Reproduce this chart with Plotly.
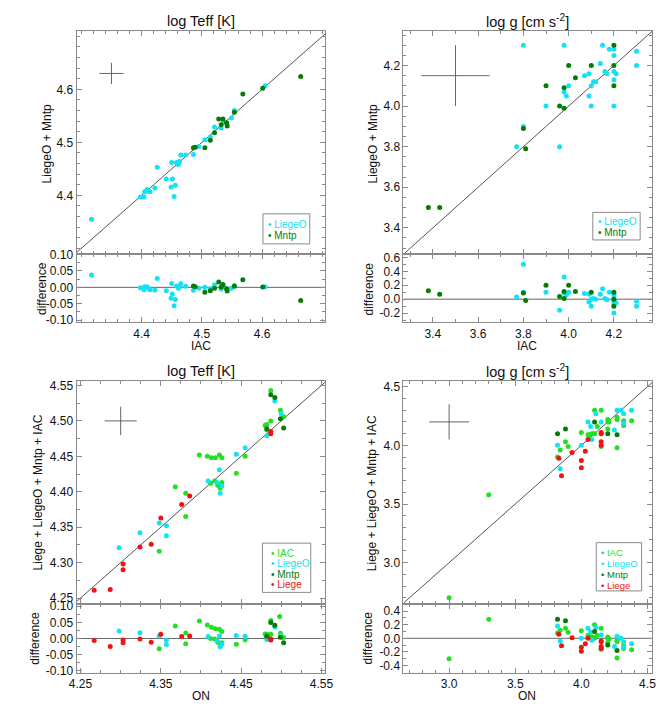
import plotly.graph_objects as go

# ---- top left: log Teff, IAC (x) vs LiegeO + Mntp (y)
t1_liegeo_x = [4.317, 4.398, 4.404, 4.405, 4.409, 4.411, 4.414, 4.422, 4.426, 4.441,
               4.450, 4.449, 4.451, 4.456, 4.454, 4.458, 4.461, 4.463, 4.465, 4.473,
               4.486, 4.495, 4.505, 4.514, 4.521, 4.532, 4.536, 4.549, 4.554, 4.605]
t1_liegeo_y = [4.355, 4.397, 4.397, 4.407, 4.411, 4.408, 4.407, 4.414, 4.453, 4.431,
               4.462, 4.416, 4.431, 4.419, 4.398, 4.462, 4.458, 4.464, 4.476, 4.476,
               4.477, 4.492, 4.505, 4.510, 4.529, 4.527, 4.538, 4.546, 4.560, 4.607]
t1_mntp_x = [4.486, 4.489, 4.505, 4.514, 4.521, 4.528, 4.532, 4.535, 4.541, 4.542,
             4.554, 4.568, 4.601, 4.664]
t1_mntp_y = [4.490, 4.491, 4.490, 4.504, 4.518, 4.544, 4.533, 4.544, 4.537, 4.531,
             4.557, 4.591, 4.602, 4.624]

# ---- top right: log g, IAC (x) vs LiegeO + Mntp (y)
g1_liegeo_x = [3.80, 3.80, 3.77, 3.90, 3.96, 3.98, 3.98, 3.99, 4.00, 4.07,
               4.09, 4.09, 4.10, 4.10, 4.11, 4.12, 4.14, 4.15, 4.16, 4.17,
               4.18, 4.20, 4.20, 4.20, 4.20, 4.20, 4.21, 4.30, 4.30]
g1_liegeo_y = [4.30, 3.90, 3.80, 4.00, 3.80, 4.30, 4.07, 4.05, 4.10, 4.15,
               4.16, 4.05, 4.10, 4.00, 4.12, 4.12, 4.21, 4.30, 4.17, 4.16,
               4.28, 4.28, 4.25, 4.17, 4.13, 4.00, 4.16, 4.27, 4.20]
g1_mntp_x = [3.38, 3.43, 3.80, 3.81, 3.90, 3.96, 3.98, 3.98, 4.00, 4.03,
             4.10, 4.20, 4.20, 4.20]
g1_mntp_y = [3.50, 3.50, 3.89, 3.79, 4.10, 4.00, 4.09, 3.99, 4.20, 4.14,
             4.20, 4.30, 4.20, 4.10]

# ---- bottom left: log Teff, ON (x) vs Liege + LiegeO + Mntp + IAC (y)
t2_iac_x = [4.348, 4.368, 4.381, 4.381, 4.398, 4.408, 4.413, 4.418, 4.423, 4.426,
            4.412, 4.417, 4.421, 4.426, 4.424, 4.444, 4.455, 4.480, 4.482, 4.482,
            4.487, 4.487, 4.499, 4.503, 4.498]
t2_iac_y = [4.316, 4.407, 4.398, 4.365, 4.452, 4.450, 4.448, 4.448, 4.452, 4.448,
            4.412, 4.415, 4.409, 4.413, 4.405, 4.426, 4.450, 4.494, 4.495, 4.487,
            4.500, 4.543, 4.515, 4.506, 4.566]
t2_liegeo_x = [4.298, 4.324, 4.348, 4.357, 4.357, 4.409, 4.420, 4.423, 4.424, 4.426,
               4.444, 4.455, 4.482, 4.492, 4.500]
t2_liegeo_y = [4.321, 4.342, 4.356, 4.352, 4.338, 4.415, 4.413, 4.431, 4.398, 4.408,
               4.453, 4.462, 4.479, 4.528, 4.510]
t2_mntp_x = [4.487, 4.492, 4.482, 4.499, 4.503]
t2_mntp_y = [4.537, 4.533, 4.489, 4.503, 4.490]
t2_liege_x = [4.267, 4.287, 4.303, 4.303, 4.324, 4.338, 4.350, 4.376, 4.386, 4.487, 4.487]
t2_liege_y = [4.261, 4.262, 4.298, 4.290, 4.322, 4.326, 4.363, 4.382, 4.394, 4.485, 4.482]

# ---- bottom right: log g, ON (x) vs Liege + LiegeO + Mntp + IAC (y)
g2_iac_x = [3.00, 3.30, 3.82, 3.84, 3.88, 3.90, 4.00, 4.05, 4.06, 4.08,
            4.09, 4.10, 4.10, 4.12, 4.15, 4.15, 4.20, 4.20, 4.21, 4.20,
            4.27, 4.27, 4.27, 4.32, 4.32, 4.38]
g2_iac_y = [2.70, 3.58, 3.90, 3.96, 4.03, 3.99, 4.11, 4.09, 4.09, 4.10,
            4.10, 4.10, 4.30, 4.16, 4.30, 3.99, 4.22, 4.20, 4.20, 4.14,
            4.24, 4.22, 3.98, 4.21, 4.17, 4.21]
g2_liegeo_x = [3.82, 3.84, 4.00, 4.05, 4.07, 4.08, 4.11, 4.15, 4.25, 4.27,
               4.30, 4.32, 4.32, 4.38]
g2_liegeo_y = [4.00, 3.80, 4.00, 4.20, 4.16, 4.05, 4.27, 4.20, 4.13, 4.30,
               4.30, 4.27, 4.19, 4.30]
g2_mntp_x = [3.82, 3.88, 4.10, 4.20, 4.27]
g2_mntp_y = [4.10, 4.14, 4.20, 4.10, 4.09]
g2_liege_x = [3.83, 3.85, 3.93, 4.00, 4.00, 4.03, 4.05, 4.15, 4.15, 4.15, 4.15]
g2_liege_y = [3.89, 3.74, 3.94, 3.87, 3.81, 3.95, 4.05, 4.11, 4.10, 4.03, 4.00]

# typical error bars (centre x, centre y, half width x, half width y)
t1_err = [4.35, 4.63, 0.02, 0.02]
g1_err = [3.50, 4.15, 0.15, 0.15]
t2_err = [4.30, 4.50, 0.02, 0.02]
g2_err = [3.00, 4.20, 0.15, 0.15]

# tick labels
t1_ticks = [4.4, 4.5, 4.6]
t1_ticktext = ['4.4', '4.5', '4.6']
t1_diff_ticks = [0.10, 0.05, 0.0, -0.05, -0.10]
t1_diff_ticktext = ['0.10', '0.05', '0.00', '-0.05', '-0.10']
g1_ticks = [3.4, 3.6, 3.8, 4.0, 4.2]
g1_ticktext = ['3.4', '3.6', '3.8', '4.0', '4.2']
g1_diff_ticks = [0.6, 0.4, 0.2, 0.0, -0.2]
g1_diff_ticktext = ['0.6', '0.4', '0.2', '0.0', '-0.2']
t2_xticks = [4.25, 4.35, 4.45, 4.55]
t2_xticktext = ['4.25', '4.35', '4.45', '4.55']
t2_yticks = [4.25, 4.30, 4.35, 4.40, 4.45, 4.50, 4.55]
t2_yticktext = ['4.25', '4.30', '4.35', '4.40', '4.45', '4.50', '4.55']
t2_diff_ticks = [0.10, 0.05, 0.0, -0.05, -0.10]
t2_diff_ticktext = ['0.10', '0.05', '0.00', '-0.05', '-0.10']
g2_ticks = [3.0, 3.5, 4.0, 4.5]
g2_ticktext = ['3.0', '3.5', '4.0', '4.5']
g2_diff_ticks = [0.4, 0.2, 0.0, -0.2, -0.4]
g2_diff_ticktext = ['0.4', '0.2', '0.0', '-0.2', '-0.4']

CYAN = '#12E2F4'
LGREEN = '#22E022'
DGREEN = '#087A08'
RED = '#EE1414'
AXC = '#8A8A8A'
FONT = 'Liberation Sans'
W, H = 667, 709


def px(x):
    return x / W


def py(y):
    return 1 - y / H


def diff(xs, ys):
    return [b - a for a, b in zip(xs, ys)]


fig = go.Figure()


def points(x, y, color, n):
    xa = 'x' if n == 1 else 'x%d' % n
    ya = 'y' if n == 1 else 'y%d' % n
    fig.add_trace(go.Scatter(x=x, y=y, mode='markers', xaxis=xa, yaxis=ya,
                             marker=dict(color=color, size=5), showlegend=False))


def line(x, y, n, color='#555555'):
    xa = 'x' if n == 1 else 'x%d' % n
    ya = 'y' if n == 1 else 'y%d' % n
    fig.add_trace(go.Scatter(x=x, y=y, mode='lines', xaxis=xa, yaxis=ya,
                             line=dict(color=color, width=1), showlegend=False,
                             hoverinfo='skip'))


def cross(err, n):
    xa = 'x' if n == 1 else 'x%d' % n
    ya = 'y' if n == 1 else 'y%d' % n
    fig.add_trace(go.Scatter(x=[err[0]], y=[err[1]], mode='markers', xaxis=xa, yaxis=ya,
                             marker=dict(size=1, color='#666666'), showlegend=False,
                             error_x=dict(type='constant', value=err[2], width=0,
                                          thickness=1, color='#666666'),
                             error_y=dict(type='constant', value=err[3], width=0,
                                          thickness=1, color='#666666')))


# axis ranges
t1_rx, t1_ry, t1_rd = [4.292, 4.705], [4.289, 4.71], [-0.106, 0.101]
g1_rx, g1_ry, g1_rd = [3.27, 4.37], [3.27, 4.37], [-0.33, 0.646]
t2_rx, t2_ry, t2_rd = [4.245, 4.555], [4.242, 4.556], [-0.107, 0.108]
g2_rx, g2_ry, g2_rd = [2.655, 4.537], [2.65, 4.547], [-0.51, 0.51]

# panel 1 / 2 : top left
line([4.2, 4.8], [4.2, 4.8], 1)
cross(t1_err, 1)
points(t1_liegeo_x, t1_liegeo_y, CYAN, 1)
points(t1_mntp_x, t1_mntp_y, DGREEN, 1)
line(t1_rx, [0, 0], 2, '#666666')
points(t1_liegeo_x, diff(t1_liegeo_x, t1_liegeo_y), CYAN, 2)
points(t1_mntp_x, diff(t1_mntp_x, t1_mntp_y), DGREEN, 2)

# panel 3 / 4 : top right
line([3.0, 4.6], [3.0, 4.6], 3)
cross(g1_err, 3)
points(g1_liegeo_x, g1_liegeo_y, CYAN, 3)
points(g1_mntp_x, g1_mntp_y, DGREEN, 3)
line(g1_rx, [0, 0], 4, '#666666')
points(g1_liegeo_x, diff(g1_liegeo_x, g1_liegeo_y), CYAN, 4)
points(g1_mntp_x, diff(g1_mntp_x, g1_mntp_y), DGREEN, 4)

# panel 5 / 6 : bottom left
line([4.2, 4.6], [4.2, 4.6], 5)
cross(t2_err, 5)
points(t2_iac_x, t2_iac_y, LGREEN, 5)
points(t2_liegeo_x, t2_liegeo_y, CYAN, 5)
points(t2_mntp_x, t2_mntp_y, DGREEN, 5)
points(t2_liege_x, t2_liege_y, RED, 5)
line(t2_rx, [0, 0], 6, '#666666')
points(t2_iac_x, diff(t2_iac_x, t2_iac_y), LGREEN, 6)
points(t2_liegeo_x, diff(t2_liegeo_x, t2_liegeo_y), CYAN, 6)
points(t2_mntp_x, diff(t2_mntp_x, t2_mntp_y), DGREEN, 6)
points(t2_liege_x, diff(t2_liege_x, t2_liege_y), RED, 6)

# panel 7 / 8 : bottom right
line([2.5, 4.7], [2.5, 4.7], 7)
cross(g2_err, 7)
points(g2_iac_x, g2_iac_y, LGREEN, 7)
points(g2_liegeo_x, g2_liegeo_y, CYAN, 7)
points(g2_mntp_x, g2_mntp_y, DGREEN, 7)
points(g2_liege_x, g2_liege_y, RED, 7)
line(g2_rx, [0, 0], 8, '#666666')
points(g2_iac_x, diff(g2_iac_x, g2_iac_y), LGREEN, 8)
points(g2_liegeo_x, diff(g2_liegeo_x, g2_liegeo_y), CYAN, 8)
points(g2_mntp_x, diff(g2_mntp_x, g2_mntp_y), DGREEN, 8)
points(g2_liege_x, diff(g2_liege_x, g2_liege_y), RED, 8)


def axis(rng, domain, anchor, tickvals, ticktext, minor, labels=True):
    return dict(range=rng, domain=domain, anchor=anchor,
                tickmode='array', tickvals=tickvals, ticktext=ticktext,
                showticklabels=labels, ticks='inside', ticklen=5, tickwidth=1,
                tickcolor=AXC, showline=True, linecolor=AXC, linewidth=1,
                mirror='allticks', showgrid=False, zeroline=False,
                minor=dict(ticks='inside', ticklen=3, tickcolor=AXC, tick0=0,
                           dtick=minor, showgrid=False),
                tickfont=dict(family=FONT, size=12, color='#111111'))


xl = [px(62), px(317)]
xr = [px(397), px(652)]
y_top = [py(244), py(17.3)]
y_topd = [py(313), py(244)]
y_bot = [py(599), py(373)]
y_botd = [py(669.3), py(599)]

layout = dict(
    width=W, height=H, margin=dict(l=0, r=0, t=0, b=0),
    plot_bgcolor='white', paper_bgcolor='white', showlegend=False,
    font=dict(family=FONT, size=12, color='#111111'),
    xaxis=axis(t1_rx, xl, 'y', t1_ticks, t1_ticktext, 0.02, False),
    yaxis=axis(t1_ry, y_top, 'x', t1_ticks, t1_ticktext, 0.02),
    xaxis2=axis(t1_rx, xl, 'y2', t1_ticks, t1_ticktext, 0.02),
    yaxis2=axis(t1_rd, y_topd, 'x2', t1_diff_ticks, t1_diff_ticktext, 0.025),
    xaxis3=axis(g1_rx, xr, 'y3', g1_ticks, g1_ticktext, 0.1, False),
    yaxis3=axis(g1_ry, y_top, 'x3', g1_ticks, g1_ticktext, 0.05),
    xaxis4=axis(g1_rx, xr, 'y4', g1_ticks, g1_ticktext, 0.1),
    yaxis4=axis(g1_rd, y_topd, 'x4', g1_diff_ticks, g1_diff_ticktext, 0.1),
    xaxis5=axis(t2_rx, xl, 'y5', t2_xticks, t2_xticktext, 0.025, False),
    yaxis5=axis(t2_ry, y_bot, 'x5', t2_yticks, t2_yticktext, 0.025),
    xaxis6=axis(t2_rx, xl, 'y6', t2_xticks, t2_xticktext, 0.025),
    yaxis6=axis(t2_rd, y_botd, 'x6', t2_diff_ticks, t2_diff_ticktext, 0.025),
    xaxis7=axis(g2_rx, xr, 'y7', g2_ticks, g2_ticktext, 0.1, False),
    yaxis7=axis(g2_ry, y_bot, 'x7', g2_ticks, g2_ticktext, 0.1),
    xaxis8=axis(g2_rx, xr, 'y8', g2_ticks, g2_ticktext, 0.1),
    yaxis8=axis(g2_rd, y_botd, 'x8', g2_diff_ticks, g2_diff_ticktext, 0.1),
)
fig.update_layout(**layout)


def text(s, x, y, size=12, angle=0, color='#111111', xanchor='center'):
    fig.add_annotation(text=s, x=px(x), y=py(y), xref='paper', yref='paper',
                       showarrow=False, textangle=angle, xanchor=xanchor,
                       yanchor='middle', font=dict(family=FONT, size=size, color=color))


# titles
text('log Teff [K]', 190, 7.5, 14.5)
text('log g [cm s<sup>-2</sup>]', 524, 7.5, 14.5)
text('log Teff [K]', 190, 363, 14.5)
text('log g [cm s<sup>-2</sup>]', 524, 363, 14.5)

# axis titles
text('LiegeO + Mntp', 31.5, 131.7, 12, -90)
text('difference', 26, 279, 12, -90)
text('IAC', 190, 337.5, 12)
text('LiegeO + Mntp', 365.5, 131.7, 12, -90)
text('difference', 361.5, 279, 12, -90)
text('IAC', 524, 337.5, 12)
text('Liege + LiegeO + Mntp + IAC', 22.5, 486, 12, -90)
text('difference', 20, 634, 12, -90)
text('ON', 190, 693, 12)
text('Liege + LiegeO + Mntp + IAC', 365, 486.5, 12, -90)
text('difference', 361, 634, 12, -90)
text('ON', 524, 693, 12)


# legend boxes
def legend(box, rows, x0, y0, step, size=10):
    fig.add_shape(type='rect', xref='paper', yref='paper',
                  x0=px(box[0]), x1=px(box[2]), y0=py(box[3]), y1=py(box[1]),
                  line=dict(color=AXC, width=1))
    for i, (name, color) in enumerate(rows):
        text('\u2022 ' + name, x0, y0 + i * step, size, 0, color, 'left')


legend([253, 203, 301, 233.5], [('LiegeO', CYAN), ('Mntp', DGREEN)], 256.5, 213.5, 11.5)
legend([591, 201.5, 639.5, 229.5], [('LiegeO', CYAN), ('Mntp', DGREEN)], 594, 211, 11)
legend([252.5, 537.5, 302, 587.5],
       [('IAC', LGREEN), ('LiegeO', CYAN), ('Mntp', DGREEN), ('Liege', RED)],
       259.5, 547.5, 10.7)
legend([594.5, 537, 641, 586],
       [('IAC', LGREEN), ('LiegeO', CYAN), ('Mntp', DGREEN), ('Liege', RED)],
       597.5, 547, 11, 9.5)

fig.write_html('out.html')
